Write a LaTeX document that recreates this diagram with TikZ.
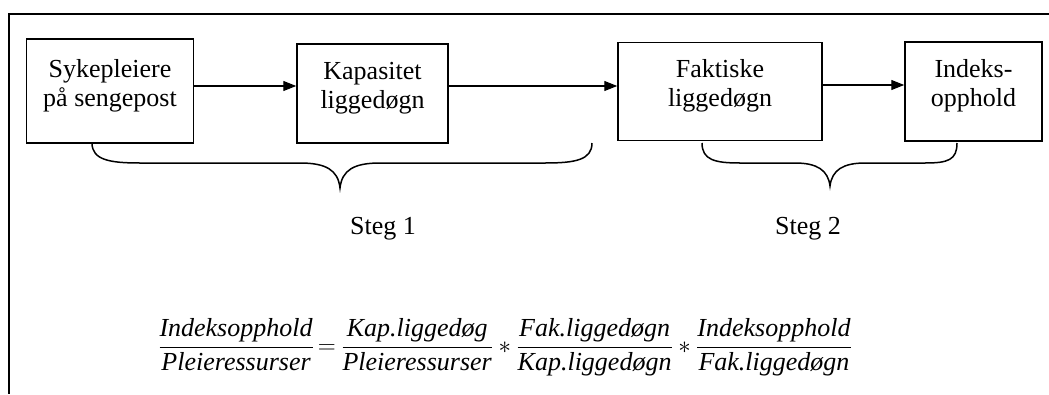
\documentclass[tikz,border=0pt]{standalone}
\usepackage{fontspec}
\setmainfont{Liberation Serif}
\usetikzlibrary{arrows.meta}
\begin{document}
\begin{tikzpicture}[x=1pt, y=-1pt,
  frame/.style={line width=1.5pt},
  stepbox/.style={draw, line width=1.5pt, inner sep=0pt, align=center,
    font=\fontsize{26}{29}\selectfont},
  flow/.style={line width=1.2pt, -{Triangle[length=13pt,width=10pt]}},
  bracket/.style={line width=1.5pt},
  steglabel/.style={font=\fontsize{26}{29}\selectfont},
  formulanode/.style={font=\fontsize{26}{30}\selectfont, inner sep=0pt}]
  \useasboundingbox (0,0) rectangle (1049,394);
  % outer frame: top and left edges
  \draw[frame] (1049,14) -- (9,14) -- (9,394);

  % process boxes (the trailing short line lifts the text a little)
  \node[stepbox, minimum width=167pt, minimum height=104pt] (nurses) at (110,91)
    {Sykepleiere\\på sengepost\\[-12pt]};
  \node[stepbox, minimum width=151pt, minimum height=99pt] (capacity) at (372.5,93.5)
    {Kapasitet\\liggedøgn\\[-12pt]};
  \node[stepbox, minimum width=204pt, minimum height=98pt] (actual) at (720,91.5)
    {Faktiske\\liggedøgn\\[-12pt]};
  \node[stepbox, minimum width=137pt, minimum height=99pt] (index) at (973.5,91.5)
    {Indeks-\\opphold\\[-12pt]};

  % arrows between the boxes
  \draw[flow] (nurses.east |- 0,86) -- (capacity.west |- 0,86);
  \draw[flow] (capacity.east |- 0,86) -- (actual.west |- 0,86);
  \draw[flow] (actual.east |- 0,85) -- (index.west |- 0,85);

  % brace for step 1
  \coordinate (b1l) at (92,143);
  \coordinate (b1t) at (340,188);
  \coordinate (b1r) at (592,143);
  \draw[bracket] (b1l) .. controls (92,160) and (110,163) .. (140,163)
    -- (300,163) .. controls (326,163) and (338,170) .. (b1t)
    .. controls (342,170) and (354,163) .. (380,163)
    -- (545,163) .. controls (575,163) and (592,160) .. (b1r);
  % brace for step 2
  \coordinate (b2l) at (702,143);
  \coordinate (b2t) at (830,186);
  \coordinate (b2r) at (957,143);
  \draw[bracket] (b2l) .. controls (702,160) and (715,163) .. (740,163)
    -- (795,163) .. controls (817,163) and (828,170) .. (b2t)
    .. controls (832,170) and (843,163) .. (865,163)
    -- (925,163) .. controls (948,163) and (957,160) .. (b2r);

  % step labels
  \node[steglabel] (steg1) at (383,229) {Steg 1};
  \node[steglabel] (steg2) at (808,229) {Steg 2};

  % productivity decomposition
  \node[formulanode] (formula) at (505,347)
    {$\displaystyle
      \frac{\textit{Indeksopphold}}{\textit{Pleieressurser}}
      \mkern3mu{=}\mkern4mu\frac{\textit{Kap.liggedøg}}{\textit{Pleieressurser}}
      \mkern4mu{\ast}\mkern4mu\frac{\textit{Fak.liggedøgn}}{\textit{Kap.liggedøgn}}
      \mkern4mu{\ast}\mkern4mu\frac{\textit{Indeksopphold}}{\textit{Fak.liggedøgn}}$};
\end{tikzpicture}
\end{document}
